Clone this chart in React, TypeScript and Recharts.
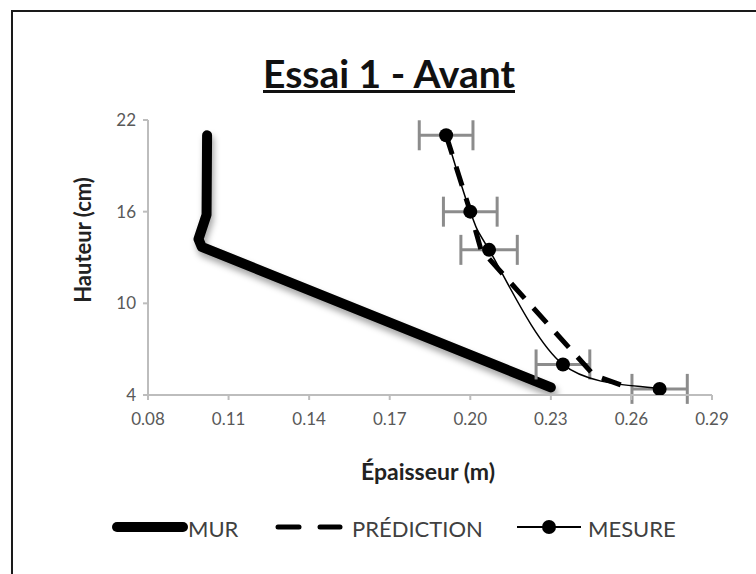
import { ComposedChart, Line, Scatter, XAxis, YAxis, ErrorBar } from "recharts";

// MUR (wall profile)
const murX = [0.102, 0.1018, 0.0988, 0.1, 0.23];
const murY = [21, 15.8, 14.2, 13.7, 4.5];

// PRÉDICTION
const predX = [0.191, 0.2, 0.204, 0.246, 0.26];
const predY = [21, 16, 13.5, 5.3, 4.4];

// MESURE with horizontal error
const mesX = [0.191, 0.2, 0.207, 0.2345, 0.2705];
const mesY = [21, 16, 13.5, 6, 4.4];
const mesErr = [0.01, 0.01, 0.0105, 0.01, 0.0103];

const xTicks = [0.08, 0.11, 0.14, 0.17, 0.2, 0.23, 0.26, 0.29];
const yTicks = [4, 10, 16, 22];

const murData = murX.map((x, i) => ({ x, y: murY[i] }));
const predData = predX.map((x, i) => ({ x, y: predY[i] }));
const mesData = mesX.map((x, i) => ({ x, y: mesY[i], err: mesErr[i] }));

const FONT = "Lato, 'Open Sans', sans-serif";
const tickStyle = { fill: "#595959", fontSize: 17, fontFamily: FONT };
const axisColor = "#bdbdbd";

// excel-like smoothed line (catmull-rom style bezier)
const smoothCurve = (ctx: any) => {
  let pts: number[][] = [];
  return {
    areaStart() {},
    areaEnd() {},
    lineStart() {
      pts = [];
    },
    point(x: number, y: number) {
      pts.push([+x, +y]);
    },
    lineEnd() {
      if (!pts.length) return;
      ctx.moveTo(pts[0][0], pts[0][1]);
      for (let i = 0; i < pts.length - 1; i++) {
        const p0 = pts[i - 1] || pts[i];
        const p1 = pts[i];
        const p2 = pts[i + 1];
        const p3 = pts[i + 2] || p2;
        ctx.bezierCurveTo(
          p1[0] + (p2[0] - p0[0]) / 6,
          p1[1] + (p2[1] - p0[1]) / 6,
          p2[0] - (p3[0] - p1[0]) / 6,
          p2[1] - (p3[1] - p1[1]) / 6,
          p2[0],
          p2[1]
        );
      }
    },
  };
};

export default function App() {
  return (
    <div
      style={{
        position: "fixed",
        left: 0,
        top: 0,
        width: 756,
        height: 574,
        overflow: "hidden",
        background: "#fff",
        fontFamily: FONT,
      }}
    >
      {/* outer frame */}
      <div
        style={{
          position: "absolute",
          left: 11,
          top: 10,
          width: 800,
          height: 620,
          border: "2px solid #1a1a1a",
          boxShadow: "2px 3px 3px rgba(0,0,0,0.25)",
        }}
      />

      <div
        style={{
          position: "absolute",
          left: 0,
          top: 50,
          width: 778,
          textAlign: "center",
          fontSize: 39,
          lineHeight: "46px",
          fontWeight: 700,
          textDecoration: "underline",
          color: "#111",
        }}
      >
        Essai 1 - Avant
      </div>

      <div style={{ position: "absolute", left: 0, top: 0 }}>
        <ComposedChart
          width={756}
          height={574}
          margin={{ top: 120, right: 44, bottom: 149, left: 88 }}
        >
          <XAxis
            type="number"
            dataKey="x"
            domain={[0.08, 0.29]}
            ticks={xTicks}
            tickFormatter={(v: number) => v.toFixed(2)}
            allowDataOverflow
            height={30}
            tick={tickStyle}
            tickSize={5}
            tickMargin={13}
            axisLine={{ stroke: axisColor, strokeWidth: 2 }}
            tickLine={{ stroke: axisColor, strokeWidth: 2 }}
          />
          <YAxis
            type="number"
            dataKey="y"
            domain={[4, 22]}
            ticks={yTicks}
            allowDataOverflow
            width={60}
            tick={tickStyle}
            tickSize={5}
            tickMargin={7}
            axisLine={{ stroke: axisColor, strokeWidth: 2 }}
            tickLine={{ stroke: axisColor, strokeWidth: 2 }}
          />
          <Line
            data={murData}
            dataKey="y"
            type="linear"
            stroke="#000"
            strokeWidth={10}
            strokeLinecap="round"
            strokeLinejoin="round"
            dot={false}
            isAnimationActive={false}
            style={{ filter: "drop-shadow(2px 5px 3px rgba(0,0,0,0.35))" }}
          />
          <Scatter
            data={mesData}
            dataKey="y"
            isAnimationActive={false}
            shape={() => <g />}
          >
            <ErrorBar
              dataKey="err"
              direction="x"
              width={15}
              strokeWidth={3}
              stroke="#8c8c8c"
            />
          </Scatter>
          <Line
            data={predData}
            dataKey="y"
            type="linear"
            stroke="#000"
            strokeWidth={5}
            strokeDasharray="20 13"
            dot={false}
            isAnimationActive={false}
          />
          <Line
            data={mesData}
            dataKey="y"
            type={smoothCurve as any}
            stroke="#000"
            strokeWidth={1.5}
            dot={{ r: 7, fill: "#000", stroke: "#000", strokeWidth: 0 }}
            isAnimationActive={false}
          />
        </ComposedChart>
      </div>

      {/* axis titles */}
      <div
        style={{
          position: "absolute",
          left: 278,
          width: 300,
          top: 457,
          textAlign: "center",
          fontSize: 23,
          fontWeight: 700,
          color: "#222",
        }}
      >
        Épaisseur (m)
      </div>
      <div
        style={{
          position: "absolute",
          left: 82,
          top: 240,
          transform: "translate(-50%, -50%) rotate(-90deg)",
          whiteSpace: "nowrap",
          fontSize: 22,
          fontWeight: 700,
          color: "#222",
        }}
      >
        Hauteur (cm)
      </div>

      {/* legend */}
      <svg
        width={756}
        height={574}
        style={{ position: "absolute", left: 0, top: 0 }}
      >
        <line x1={117} y1={527} x2={183} y2={527} stroke="#000" strokeWidth={10} strokeLinecap="round" />
        <line x1={278} y1={527} x2={299} y2={527} stroke="#000" strokeWidth={5} strokeLinecap="round" />
        <line x1={320} y1={527} x2={340} y2={527} stroke="#000" strokeWidth={5} strokeLinecap="round" />
        <line x1={517} y1={527} x2={581} y2={527} stroke="#000" strokeWidth={2} />
        <circle cx={549} cy={527} r={7} fill="#000" />
        <g fontFamily={FONT} fontSize={22} fill="#404040">
          <text x={188} y={537}>MUR</text>
          <text x={352} y={537}>PRÉDICTION</text>
          <text x={588} y={537}>MESURE</text>
        </g>
      </svg>
    </div>
  );
}
